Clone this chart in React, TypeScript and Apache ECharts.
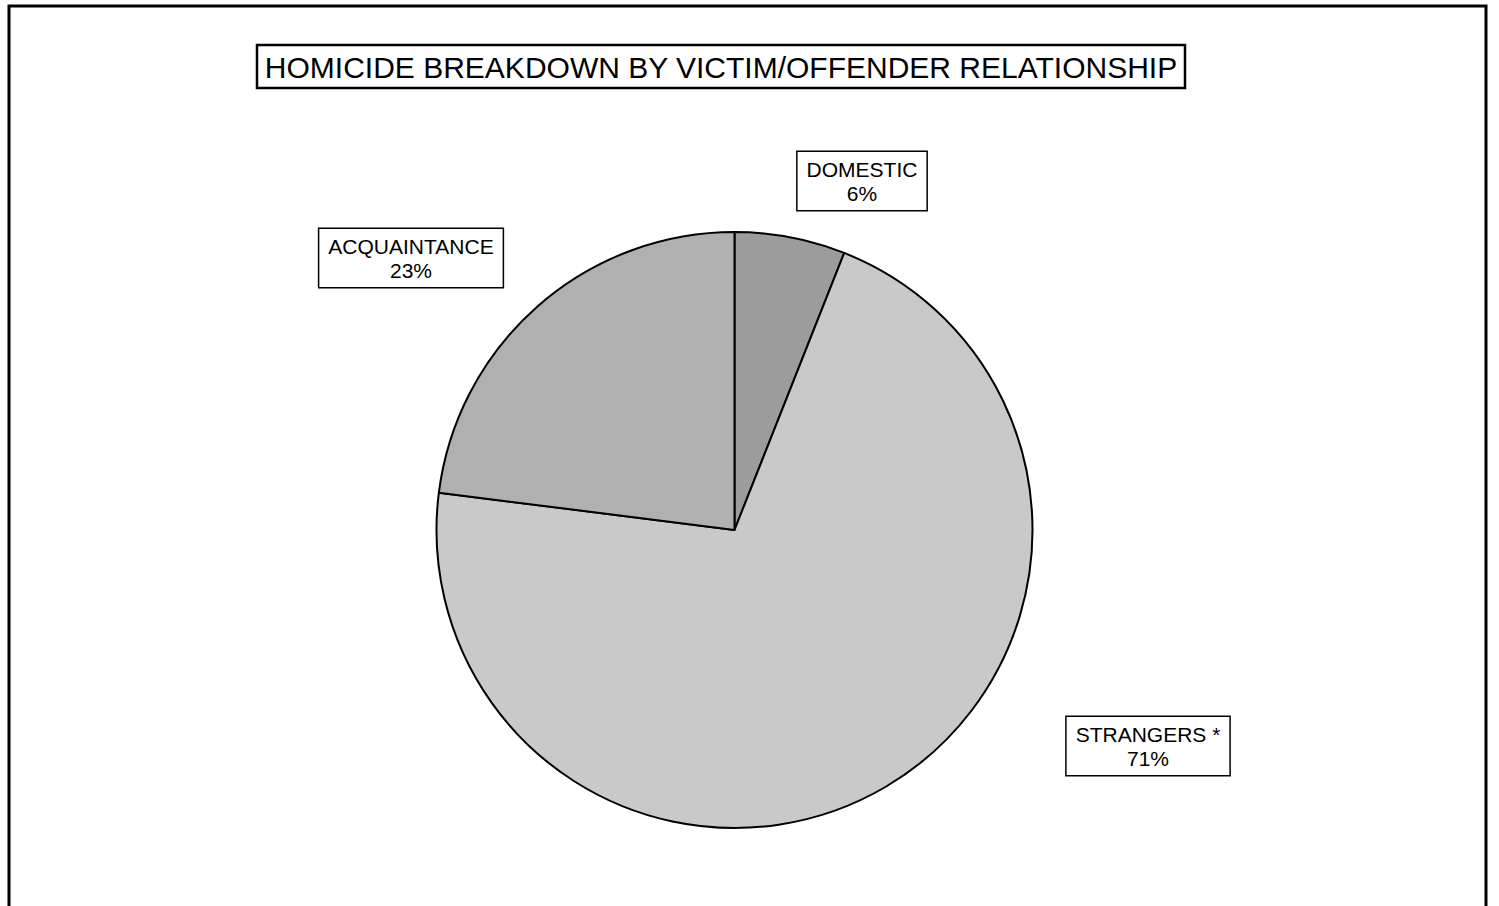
import React, { useEffect, useRef } from "react";
import * as echarts from "echarts";

const titleText = "HOMICIDE BREAKDOWN BY VICTIM/OFFENDER RELATIONSHIP";
const categories = ["DOMESTIC", "STRANGERS *", "ACQUAINTANCE"];
const values = [6, 71, 23];
const sliceColors = ["#9c9c9c", "#c9c9c9", "#b0b0b0"];
const labelPositions = [
  [862, 181],
  [1148, 746],
  [411, 258],
];

export default function App() {
  const ref = useRef<HTMLDivElement>(null);
  useEffect(() => {
    if (!ref.current) return;
    const chart = echarts.init(ref.current, null, { renderer: "svg" });
    chart.setOption({
      animation: false,
      backgroundColor: "#ffffff",
      textStyle: { fontFamily: "Liberation Sans, Arial, sans-serif" },
      graphic: [
        {
          type: "rect",
          shape: { x: 9, y: 6, width: 1477, height: 930 },
          style: { fill: "none", stroke: "#000", lineWidth: 3 },
          silent: true,
        },
        {
          type: "rect",
          shape: { x: 257, y: 45, width: 928, height: 43 },
          style: { fill: "#fff", stroke: "#000", lineWidth: 2.5 },
          silent: true,
        },
        {
          type: "text",
          x: 721,
          y: 67,
          style: {
            text: titleText,
            fill: "#000",
            font: "30px 'Liberation Sans', Arial, sans-serif",
            align: "center",
            verticalAlign: "middle",
          },
          silent: true,
        },
      ],
      series: [
        {
          type: "pie",
          center: [734.5, 530],
          radius: 298,
          startAngle: 90,
          clockwise: true,
          percentPrecision: 0,
          itemStyle: { borderColor: "#000", borderWidth: 2 },
          label: {
            show: true,
            formatter: "{b}\n{d}%",
            color: "#000",
            fontSize: 21,
            lineHeight: 24,
            fontFamily: "Liberation Sans, Arial, sans-serif",
            backgroundColor: "#fff",
            borderColor: "#000",
            borderWidth: 1.5,
            padding: [5, 9, 5, 9],
            align: "center",
          },
          labelLine: { show: false },
          labelLayout: (params: any) => {
            const p = labelPositions[params.dataIndex];
            return { x: p[0], y: p[1], align: "center", verticalAlign: "middle" };
          },
          emphasis: { disabled: true },
          data: categories.map((name, i) => ({
            name,
            value: values[i],
            itemStyle: { color: sliceColors[i] },
          })),
        },
      ],
    });
    return () => chart.dispose();
  }, []);
  return (
    <div
      ref={ref}
      style={{ position: "absolute", left: 0, top: 0, width: 1499, height: 906 }}
    />
  );
}
